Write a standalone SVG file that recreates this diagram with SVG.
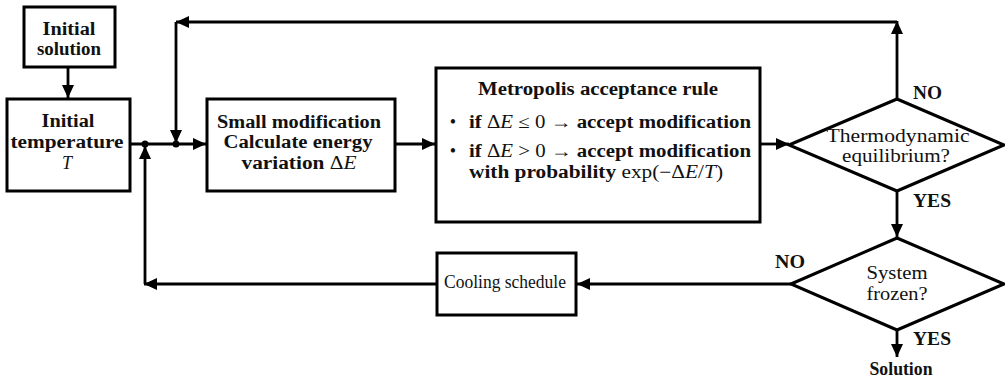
<svg xmlns="http://www.w3.org/2000/svg" width="1005" height="385" viewBox="0 0 1005 385">
<style>
.box{fill:#fff;stroke:#000;stroke-width:3}
.c{fill:none;stroke:#000;stroke-width:2.8}
text{font-family:"Liberation Serif","DejaVu Serif",serif;font-size:18px;fill:#111}
.b{font-weight:bold}
.n{font-weight:normal}
.m{text-anchor:middle}
</style>
<defs>
<marker id="ah" markerUnits="userSpaceOnUse" markerWidth="14" markerHeight="12" refX="13" refY="6" orient="auto">
<path d="M0,0 L13,6 L0,12 z" fill="#000"/>
</marker>
</defs>
<g id="connectors">
<line class="c" x1="68" y1="67" x2="68" y2="98" marker-end="url(#ah)"/>
<line class="c" x1="130" y1="144" x2="206" y2="144" marker-end="url(#ah)"/>
<line class="c" x1="395" y1="144" x2="435" y2="144" marker-end="url(#ah)"/>
<line class="c" x1="760" y1="144" x2="789" y2="144" marker-end="url(#ah)"/>
<line class="c" x1="897" y1="99" x2="897" y2="21" marker-end="url(#ah)"/>
<line class="c" x1="897" y1="22" x2="176" y2="22" marker-end="url(#ah)"/>
<line class="c" x1="176" y1="22" x2="176" y2="143" marker-end="url(#ah)"/>
<line class="c" x1="897" y1="191" x2="897" y2="237" marker-end="url(#ah)"/>
<line class="c" x1="791" y1="284" x2="577" y2="284" marker-end="url(#ah)"/>
<line class="c" x1="437" y1="284" x2="144" y2="284" marker-end="url(#ah)"/>
<line class="c" x1="145" y1="284" x2="145" y2="146" marker-end="url(#ah)"/>
<line class="c" x1="897" y1="330" x2="897" y2="357" marker-end="url(#ah)"/>
<circle cx="145" cy="144" r="3.5" fill="#000"/>
<circle cx="176" cy="144" r="3.5" fill="#000"/>
</g>
<g id="initial-solution">
<rect class="box" x="24" y="7" width="91" height="60"/>
<text class="b m" x="69" y="35" textLength="53" lengthAdjust="spacingAndGlyphs">Initial</text>
<text class="b m" x="69" y="55" textLength="64" lengthAdjust="spacingAndGlyphs">solution</text>
</g>
<g id="initial-temperature">
<rect class="box" x="7" y="99" width="123" height="92"/>
<text class="b m" x="68" y="127" textLength="53" lengthAdjust="spacingAndGlyphs">Initial</text>
<text class="b m" x="67" y="148" textLength="113" lengthAdjust="spacingAndGlyphs">temperature</text>
<text class="m" x="67" y="169" font-style="italic">T</text>
</g>
<g id="small-modification">
<rect class="box" x="207" y="99" width="188" height="92"/>
<text class="b m" x="299" y="128" textLength="164" lengthAdjust="spacingAndGlyphs">Small modification</text>
<text class="b m" x="298" y="148" textLength="149" lengthAdjust="spacingAndGlyphs">Calculate energy</text>
<text class="b m" x="299" y="169" textLength="115" lengthAdjust="spacingAndGlyphs">variation <tspan class="n">Δ</tspan><tspan class="n" font-style="italic">E</tspan></text>
</g>
<g id="metropolis">
<rect class="box" x="436" y="68" width="324" height="154"/>
<text class="b m" x="598" y="95" textLength="240" lengthAdjust="spacingAndGlyphs">Metropolis acceptance rule</text>
<text class="m" x="453" y="128">•</text>
<text class="b" x="469" y="128" textLength="282" lengthAdjust="spacingAndGlyphs">if <tspan class="n">Δ</tspan><tspan class="n" font-style="italic">E</tspan><tspan class="n"> ≤ 0 → </tspan>accept modification</text>
<text class="m" x="453" y="157">•</text>
<text class="b" x="469" y="157" textLength="282" lengthAdjust="spacingAndGlyphs">if <tspan class="n">Δ</tspan><tspan class="n" font-style="italic">E</tspan><tspan class="n"> &gt; 0 → </tspan>accept modification</text>
<text class="b" x="469" y="178" textLength="254" lengthAdjust="spacingAndGlyphs">with probability <tspan class="n">exp(−Δ</tspan><tspan class="n" font-style="italic">E</tspan><tspan class="n">/</tspan><tspan class="n" font-style="italic">T</tspan><tspan class="n">)</tspan></text>
</g>
<g id="thermodynamic-equilibrium">
<polygon class="box" points="789,145 897,99 1004,145 897,191"/>
<text class="m" x="898" y="142" textLength="143" lengthAdjust="spacingAndGlyphs">Thermodynamic</text>
<text class="m" x="896" y="162" textLength="108" lengthAdjust="spacingAndGlyphs">equilibrium?</text>
<text class="b" x="913" y="99" textLength="29" lengthAdjust="spacingAndGlyphs">NO</text>
<text class="b" x="913" y="207" textLength="38" lengthAdjust="spacingAndGlyphs">YES</text>
</g>
<g id="system-frozen">
<polygon class="box" points="791,284 897,238 1004,284 897,330"/>
<text class="m" x="897" y="279" textLength="61" lengthAdjust="spacingAndGlyphs">System</text>
<text class="m" x="897" y="300" textLength="61" lengthAdjust="spacingAndGlyphs">frozen?</text>
<text class="b" x="775" y="268" textLength="30" lengthAdjust="spacingAndGlyphs">NO</text>
<text class="b" x="913" y="345" textLength="38" lengthAdjust="spacingAndGlyphs">YES</text>
</g>
<g id="cooling-schedule">
<rect class="box" x="437" y="253" width="139" height="62"/>
<text class="m" x="505" y="288" textLength="122" lengthAdjust="spacingAndGlyphs">Cooling schedule</text>
</g>
<g id="solution">
<text class="b m" x="901" y="375" textLength="63" lengthAdjust="spacingAndGlyphs">Solution</text>
</g>
</svg>
